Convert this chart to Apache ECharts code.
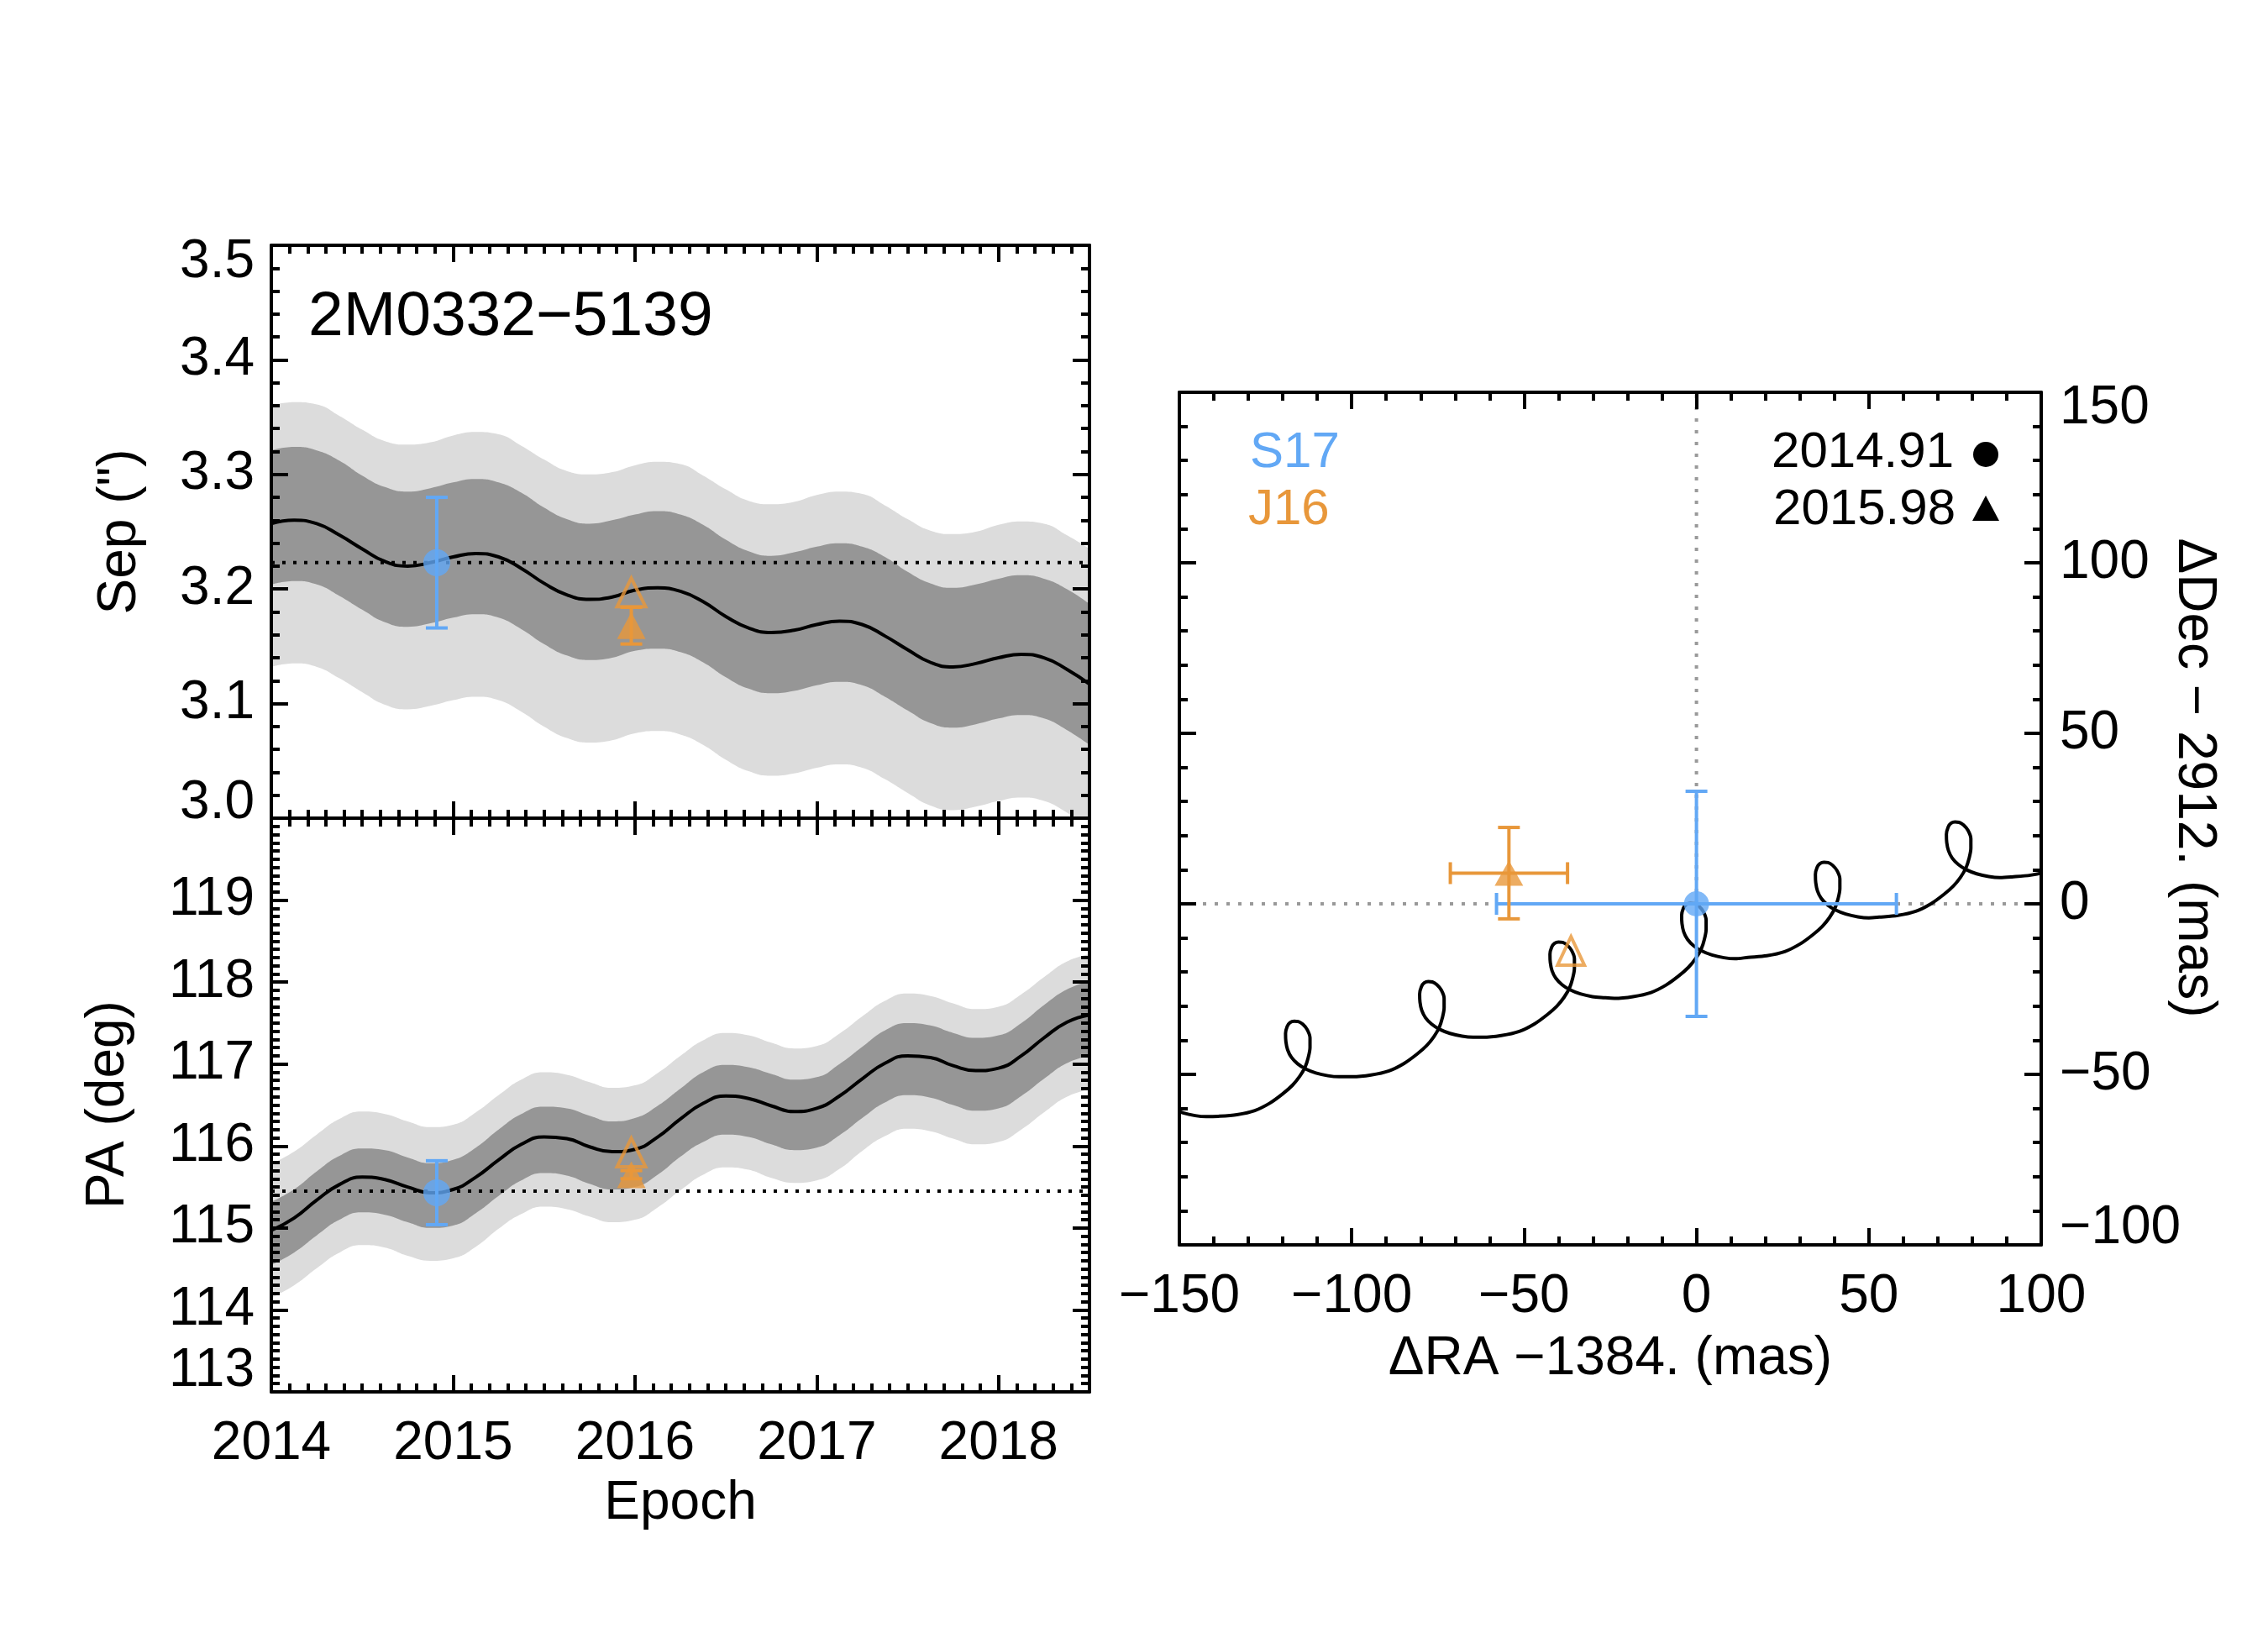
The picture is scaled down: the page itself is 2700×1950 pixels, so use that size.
<!DOCTYPE html>
<html><head><meta charset="utf-8">
<script src="https://cdn.jsdelivr.net/npm/echarts@6/dist/echarts.min.js"></script>
<style>html,body{margin:0;padding:0;background:#fff}#c{width:2700px;height:1950px}</style>
</head><body><div id="c"></div>
<script>
// ---------------- DATA ----------------
// Epochs at which the model curves were read (every 1/8 yr)
const epochs = [2014.0, 2014.125, 2014.25, 2014.375, 2014.5, 2014.625, 2014.75, 2014.875,
  2015.0, 2015.125, 2015.25, 2015.375, 2015.5, 2015.625, 2015.75, 2015.875,
  2016.0, 2016.125, 2016.25, 2016.375, 2016.5, 2016.625, 2016.75, 2016.875,
  2017.0, 2017.125, 2017.25, 2017.375, 2017.5, 2017.625, 2017.75, 2017.875,
  2018.0, 2018.125, 2018.25, 2018.375, 2018.5];

// Separation (arcsec): background-track model and its 1- and 2-sigma envelopes
const sepModel = [3.257, 3.260, 3.257, 3.247, 3.235, 3.224, 3.220, 3.223,
  3.228, 3.231, 3.228, 3.218, 3.205, 3.195, 3.191, 3.193,
  3.199, 3.201, 3.198, 3.189, 3.176, 3.166, 3.162, 3.164,
  3.169, 3.172, 3.169, 3.159, 3.147, 3.136, 3.132, 3.135,
  3.140, 3.143, 3.140, 3.130, 3.117];
const sepHi2 = [3.360, 3.363, 3.361, 3.351, 3.339, 3.329, 3.326, 3.328,
  3.334, 3.337, 3.335, 3.325, 3.313, 3.303, 3.300, 3.302,
  3.308, 3.311, 3.309, 3.299, 3.287, 3.277, 3.274, 3.276,
  3.282, 3.285, 3.283, 3.273, 3.261, 3.251, 3.248, 3.250,
  3.256, 3.259, 3.257, 3.247, 3.235];
const sepHi1 = [3.321, 3.324, 3.321, 3.312, 3.299, 3.289, 3.285, 3.288,
  3.293, 3.296, 3.293, 3.284, 3.271, 3.261, 3.257, 3.260,
  3.265, 3.268, 3.265, 3.256, 3.243, 3.233, 3.229, 3.232,
  3.237, 3.240, 3.237, 3.228, 3.215, 3.205, 3.201, 3.204,
  3.209, 3.212, 3.209, 3.200, 3.187];
const sepLo1 = [3.204, 3.207, 3.204, 3.194, 3.182, 3.171, 3.167, 3.170,
  3.175, 3.178, 3.175, 3.165, 3.152, 3.142, 3.138, 3.140,
  3.146, 3.148, 3.145, 3.136, 3.123, 3.113, 3.109, 3.111,
  3.116, 3.119, 3.116, 3.106, 3.094, 3.083, 3.079, 3.082,
  3.087, 3.090, 3.087, 3.077, 3.064];
const sepLo2 = [3.132, 3.135, 3.132, 3.122, 3.110, 3.099, 3.095, 3.098,
  3.103, 3.106, 3.103, 3.093, 3.080, 3.070, 3.066, 3.068,
  3.074, 3.076, 3.073, 3.064, 3.051, 3.041, 3.037, 3.039,
  3.044, 3.047, 3.044, 3.034, 3.022, 3.011, 3.007, 3.010,
  3.015, 3.018, 3.015, 3.005, 2.992];
const sepRef = 3.223;

// Position angle (deg)
const paModel = [114.97, 115.12, 115.34, 115.53, 115.62, 115.59, 115.50, 115.43,
  115.47, 115.62, 115.83, 116.02, 116.11, 116.09, 115.99, 115.93,
  115.96, 116.11, 116.33, 116.52, 116.61, 116.58, 116.49, 116.42,
  116.46, 116.61, 116.82, 117.01, 117.10, 117.08, 116.98, 116.92,
  116.95, 117.10, 117.32, 117.51, 117.60];
const paHi2 = [115.78, 115.93, 116.14, 116.33, 116.42, 116.39, 116.30, 116.23,
  116.26, 116.41, 116.62, 116.81, 116.90, 116.87, 116.78, 116.71,
  116.74, 116.89, 117.10, 117.29, 117.38, 117.35, 117.26, 117.19,
  117.22, 117.37, 117.58, 117.77, 117.86, 117.83, 117.74, 117.67,
  117.70, 117.85, 118.06, 118.25, 118.34];
const paHi1 = [115.32, 115.47, 115.69, 115.88, 115.97, 115.95, 115.86, 115.79,
  115.83, 115.98, 116.20, 116.39, 116.48, 116.46, 116.37, 116.30,
  116.34, 116.49, 116.70, 116.90, 116.99, 116.96, 116.88, 116.81,
  116.84, 117.00, 117.21, 117.41, 117.50, 117.47, 117.38, 117.32,
  117.35, 117.50, 117.72, 117.91, 118.01];
const paLo1 = [114.55, 114.70, 114.91, 115.10, 115.19, 115.16, 115.07, 115.00,
  115.03, 115.18, 115.39, 115.58, 115.67, 115.64, 115.54, 115.47,
  115.50, 115.65, 115.87, 116.05, 116.14, 116.11, 116.02, 115.95,
  115.98, 116.13, 116.34, 116.53, 116.62, 116.59, 116.50, 116.43,
  116.46, 116.61, 116.82, 117.01, 117.10];
const paLo2 = [114.15, 114.30, 114.51, 114.70, 114.79, 114.76, 114.66, 114.60,
  114.63, 114.77, 114.99, 115.17, 115.26, 115.23, 115.14, 115.07,
  115.10, 115.25, 115.46, 115.65, 115.74, 115.71, 115.61, 115.55,
  115.58, 115.72, 115.94, 116.12, 116.21, 116.18, 116.09, 116.02,
  116.05, 116.20, 116.41, 116.60, 116.69];
const paRef = 115.45;

// Measurements: S17 (2014.91) and J16 (2015.98)
const obsEpoch = [2014.91, 2015.98];
const obsSep = [3.223, 3.168];
const obsSepErr = [0.057, 0.016];
const obsPA = [115.43, 115.65];
const obsPAErr = [0.39, 0.05];
const predSep = [3.197];   // open triangle (background track at 2015.98)
const predPA = [115.92];

// Relative astrometry panel (mas)
const obsRA = [0, -54.4];
const obsRAErr = [58, 17];
const obsDec = [0, 9.0];
const obsDecErr = [33, 13.4];
const predRA = [-36.4];
const predDec = [-13.8];

// Background track (mas) from left to right
const trackRA = [
  -156.0, -154.2, -151.9, -148.9, -145.4, -142.2,
  -138.7, -133.3, -128.1, -123.7, -120.0, -117.2, -115.1, -113.5, -112.6, -112.1, -112.1, -112.9, -114.2,
  -115.5, -116.7, -117.9, -118.7, -119.2, -119.1, -118.6, -117.5, -115.7, -113.4, -110.4, -106.9, -103.7,
  -99.8, -94.4, -89.2, -84.8, -81.1, -78.3, -76.2, -74.6, -73.7, -73.2, -73.2, -74.0, -75.3,
  -76.6, -77.8, -79.0, -79.8, -80.3, -80.2, -79.7, -78.6, -76.8, -74.5, -71.5, -68.0, -64.8,
  -62.0, -56.6, -51.4, -47.0, -43.3, -40.5, -38.4, -36.8, -35.9, -35.4, -35.4, -36.2, -37.5,
  -38.8, -40.0, -41.2, -42.0, -42.5, -42.4, -41.9, -40.8, -39.0, -36.7, -33.7, -30.2, -27.0,
  -23.8, -18.4, -13.2, -8.8, -5.1, -2.3, -0.2, 1.4, 2.3, 2.8, 2.8, 2.0, 0.7,
  -0.6, -1.8, -3.0, -3.8, -4.3, -4.2, -3.7, -2.6, -0.8, 1.5, 4.5, 8.0, 11.2,
  15.0, 20.4, 25.6, 30.0, 33.7, 36.5, 38.6, 40.2, 41.1, 41.6, 41.6, 40.8, 39.5,
  38.2, 37.0, 35.8, 35.0, 34.5, 34.6, 35.1, 36.2, 38.0, 40.3, 43.3, 46.8, 50.0,
  53.0, 58.4, 63.6, 68.0, 71.7, 74.5, 76.6, 78.2, 79.1, 79.6, 79.6, 78.8, 77.5,
  76.2, 75.0, 73.8, 73.0, 72.5, 72.6, 73.1, 74.2, 76.0, 78.3, 81.3, 84.8, 88.0,
  91.5, 96.9, 102.1, 106.5];
const trackDec = [
  -56.7, -58.6, -60.1, -61.3, -62.1, -62.4,
  -62.3, -61.8, -60.6, -58.4, -55.7, -53.2, -50.6, -47.8, -45.0, -42.1, -39.3, -36.9, -35.3,
  -34.5, -34.4, -34.8, -35.9, -38.0, -40.4, -42.8, -45.0, -46.9, -48.4, -49.6, -50.4, -50.7,
  -50.7, -50.2, -49.0, -46.8, -44.1, -41.6, -39.0, -36.2, -33.4, -30.5, -27.7, -25.3, -23.7,
  -22.9, -22.8, -23.2, -24.3, -26.4, -28.8, -31.2, -33.4, -35.3, -36.8, -38.0, -38.8, -39.1,
  -39.1, -38.6, -37.4, -35.2, -32.5, -30.0, -27.4, -24.6, -21.8, -18.9, -16.1, -13.7, -12.1,
  -11.3, -11.2, -11.6, -12.7, -14.8, -17.2, -19.6, -21.8, -23.7, -25.2, -26.4, -27.2, -27.5,
  -27.7, -27.2, -26.0, -23.8, -21.1, -18.6, -16.0, -13.2, -10.4, -7.5, -4.7, -2.3, -0.7,
  0.1, 0.2, -0.2, -1.3, -3.4, -5.8, -8.2, -10.4, -12.3, -13.8, -15.0, -15.8, -16.1,
  -15.7, -15.2, -14.0, -11.8, -9.1, -6.6, -4.0, -1.2, 1.6, 4.5, 7.3, 9.7, 11.3,
  12.1, 12.2, 11.8, 10.7, 8.6, 6.2, 3.8, 1.6, -0.3, -1.8, -3.0, -3.8, -4.1,
  -3.9, -3.4, -2.2, 0.0, 2.7, 5.2, 7.8, 10.6, 13.4, 16.3, 19.1, 21.5, 23.1,
  23.9, 24.0, 23.6, 22.5, 20.4, 18.0, 15.6, 13.4, 11.5, 10.0, 8.8, 8.0, 7.7,
  7.9, 8.4, 9.6, 11.8];

// ---------------- STYLE ----------------
const FONT = 'Liberation Sans';
const BLUE = '#62A8F5';
const ORANGE = '#E8973A';
const DARK = '#969696';
const LIGHT = '#DCDCDC';
const LW = 4;

const chart = echarts.init(document.getElementById('c'), null, {renderer: 'canvas'});

const minus = v => (v < 0 ? '\u2212' + Math.abs(v) : String(v));
const lab = {fontFamily: FONT, fontSize: 64, color: '#000'};

function axPair(gi, pos, min, max, major, minor, labelCfg, extra) {
  const base = {
    type: 'value', gridIndex: gi, position: pos, min: min, max: max, z: 10,
    splitLine: {show: false},
    axisLine: {show: false, onZero: false}
  };
  const majorAx = Object.assign({}, base, {
    interval: major,
    axisLine: {show: true, onZero: false, lineStyle: {color: '#000', width: LW}},
    axisTick: {show: true, inside: true, length: 20, lineStyle: {color: '#000', width: LW}},
    axisLabel: labelCfg ? Object.assign({show: true}, lab, labelCfg) : {show: false}
  }, extra || {});
  const minorAx = Object.assign({}, base, {
    interval: minor,
    axisTick: {show: true, inside: true, length: 10, lineStyle: {color: '#000', width: LW}},
    axisLabel: {show: false}
  });
  return [majorAx, minorAx];
}

const grids = [
  {left: 323, top: 292, width: 974, height: 682},   // Sep
  {left: 323, top: 974, width: 974, height: 683},   // PA
  {left: 1404, top: 467, width: 1026, height: 1015} // RA/Dec
];

const xAxis = [];
const yAxis = [];
// grid 0 (Sep)
xAxis.push(...axPair(0, 'bottom', 2014, 2018.5, 1, 0.1, null));   // 0,1
xAxis.push(...axPair(0, 'top', 2014, 2018.5, 1, 0.1, null));      // 2,3
yAxis.push(...axPair(0, 'left', 3.0, 3.5, 0.1, 0.02, {
  margin: 20,
  formatter: v => {
    const s = v.toFixed(1);
    if (Math.abs(v - 3.5) < 1e-6) return '{dn|' + s + '}';
    if (Math.abs(v - 3.0) < 1e-6) return '{up|' + s + '}';
    return s;
  },
  rich: {dn: Object.assign({padding: [40, 0, 0, 0]}, lab), up: Object.assign({padding: [0, 0, 36, 0]}, lab)}
}));                                                              // 0,1
yAxis.push(...axPair(0, 'right', 3.0, 3.5, 0.1, 0.02, null));     // 2,3
// grid 1 (PA)
xAxis.push(...axPair(1, 'bottom', 2014, 2018.5, 1, 0.1, {
  margin: 30,
  formatter: v => (Math.abs(v - Math.round(v)) < 1e-6 ? String(Math.round(v)) : '')
}, {name: 'Epoch', nameLocation: 'middle', nameGap: 101, nameTextStyle: lab}));   // 4,5
xAxis.push(...axPair(1, 'top', 2014, 2018.5, 1, 0.1, null));      // 6,7
yAxis.push(...axPair(1, 'left', 113, 120, 1, 0.1, {
  margin: 20, showMaxLabel: false,
  formatter: v => (v === 113 ? '{up|113}' : String(v)),
  rich: {up: Object.assign({padding: [0, 0, 50, 0]}, lab)}
}));                                                              // 4,5
yAxis.push(...axPair(1, 'right', 113, 120, 1, 0.1, null));        // 6,7
// grid 2 (RA/Dec)
xAxis.push(...axPair(2, 'bottom', -150, 100, 50, 10, {
  margin: 30, formatter: v => minus(v)
}, {name: '\u0394RA \u22121384. (mas)', nameLocation: 'middle', nameGap: 104, nameTextStyle: lab}));  // 8,9
xAxis.push(...axPair(2, 'top', -150, 100, 50, 10, null));         // 10,11
yAxis.push(...axPair(2, 'left', -100, 150, 50, 10, null));        // 8,9
yAxis.push(...axPair(2, 'right', -100, 150, 50, 10, {
  margin: 22,
  formatter: v => {
    if (v === 150) return '{dn|150}';
    if (v === -100) return '{up|' + minus(v) + '}';
    return minus(v);
  },
  rich: {dn: Object.assign({padding: [38, 0, 0, 0]}, lab), up: Object.assign({padding: [0, 0, 40, 0]}, lab)}
}));                                                              // 10,11

const pairs = (xs, ys) => xs.map((x, i) => [x, ys[i]]);

// bands drawn as layered areas filled down to the axis minimum
function layer(xi, yi, xs, ys, color, z) {
  return {type: 'line', xAxisIndex: xi, yAxisIndex: yi, data: pairs(xs, ys),
    smooth: 0.5, symbol: 'none', lineStyle: {width: 0, opacity: 0},
    areaStyle: {color: color, opacity: 1, origin: 'start'}, z: z, silent: true};
}
function bands(xi, yi, xs, lo2, lo1, hi1, hi2) {
  return [
    layer(xi, yi, xs, hi2, LIGHT, 1),
    layer(xi, yi, xs, hi1, DARK, 1.1),
    layer(xi, yi, xs, lo1, LIGHT, 1.2),
    layer(xi, yi, xs, lo2, '#FFFFFF', 1.3)
  ];
}

function errBars(color, capHalf) {
  return function (params, api) {
    const x = api.value(0), y = api.value(1), ex = api.value(2), ey = api.value(3);
    const ch = [];
    const st = {stroke: color, lineWidth: LW};
    if (ey > 0) {
      const a = api.coord([x, y - ey]), b = api.coord([x, y + ey]);
      ch.push({type: 'line', shape: {x1: a[0], y1: a[1], x2: b[0], y2: b[1]}, style: st});
      ch.push({type: 'line', shape: {x1: a[0] - capHalf, y1: a[1], x2: a[0] + capHalf, y2: a[1]}, style: st});
      ch.push({type: 'line', shape: {x1: b[0] - capHalf, y1: b[1], x2: b[0] + capHalf, y2: b[1]}, style: st});
    }
    if (ex > 0) {
      const a = api.coord([x - ex, y]), b = api.coord([x + ex, y]);
      ch.push({type: 'line', shape: {x1: a[0], y1: a[1], x2: b[0], y2: b[1]}, style: st});
      ch.push({type: 'line', shape: {x1: a[0], y1: a[1] - capHalf, x2: a[0], y2: a[1] + capHalf}, style: st});
      ch.push({type: 'line', shape: {x1: b[0], y1: b[1] - capHalf, x2: b[0], y2: b[1] + capHalf}, style: st});
    }
    return {type: 'group', children: ch};
  };
}
function errSeries(xi, yi, color, data) {
  return {type: 'custom', xAxisIndex: xi, yAxisIndex: yi, z: 6, silent: true,
    renderItem: errBars(color, 13), encode: {x: 0, y: 1}, data: data};
}
function modelLine(xi, yi, xs, ys) {
  return {type: 'line', xAxisIndex: xi, yAxisIndex: yi, data: pairs(xs, ys), smooth: 0.5,
    symbol: 'none', lineStyle: {color: '#000', width: LW}, z: 3, silent: true};
}
function refLine(xi, yi, y) {
  return {type: 'line', xAxisIndex: xi, yAxisIndex: yi, data: [[2014, y], [2018.5, y]], symbol: 'none',
    lineStyle: {color: '#000', width: LW, type: [4, 9]}, z: 4, silent: true};
}
function pts(xi, yi, data, symbol, size, filled) {
  return {type: 'scatter', xAxisIndex: xi, yAxisIndex: yi, data: data, symbol: symbol, symbolSize: size,
    itemStyle: filled ? {color: filled} : {color: 'rgba(0,0,0,0)', borderColor: ORANGE, borderWidth: LW}, z: 7, silent: true};
}

const series = [];
// ---- Sep panel
series.push(...bands(0, 0, epochs, sepLo2, sepLo1, sepHi1, sepHi2));
series.push(modelLine(0, 0, epochs, sepModel));
series.push(refLine(0, 0, sepRef));
series.push(errSeries(0, 0, BLUE, [[obsEpoch[0], obsSep[0], 0, obsSepErr[0]]]));
series.push(errSeries(0, 0, ORANGE, [[obsEpoch[1], obsSep[1], 0, obsSepErr[1]]]));
series.push(pts(0, 0, [[obsEpoch[0], obsSep[0]]], 'circle', 32, BLUE));
series.push(pts(0, 0, [[obsEpoch[1], obsSep[1]]], 'triangle', [34, 32], ORANGE));
series.push(pts(0, 0, [[obsEpoch[1], predSep[0]]], 'triangle', [34, 34], null));

// ---- PA panel
series.push(...bands(4, 4, epochs, paLo2, paLo1, paHi1, paHi2));
series.push(modelLine(4, 4, epochs, paModel));
series.push(refLine(4, 4, paRef));
series.push(errSeries(4, 4, BLUE, [[obsEpoch[0], obsPA[0], 0, obsPAErr[0]]]));
series.push(errSeries(4, 4, ORANGE, [[obsEpoch[1], obsPA[1], 0, obsPAErr[1]]]));
series.push(pts(4, 4, [[obsEpoch[0], obsPA[0]]], 'circle', 32, BLUE));
series.push(pts(4, 4, [[obsEpoch[1], obsPA[1]]], 'triangle', [34, 32], ORANGE));
series.push(pts(4, 4, [[obsEpoch[1], predPA[0]]], 'triangle', [34, 34], null));

// ---- RA/Dec panel
series.push({type: 'line', xAxisIndex: 8, yAxisIndex: 8, data: [[-150, 0], [100, 0]], symbol: 'none',
  lineStyle: {color: '#999', width: LW, type: [4, 10]}, z: 2, silent: true});
series.push({type: 'line', xAxisIndex: 8, yAxisIndex: 8, data: [[0, 0], [0, 150]], symbol: 'none',
  lineStyle: {color: '#999', width: LW, type: [4, 10]}, z: 2, silent: true});
series.push({type: 'line', xAxisIndex: 8, yAxisIndex: 8, data: pairs(trackRA, trackDec), smooth: 0.3,
  symbol: 'none', lineStyle: {color: '#000', width: LW}, z: 3, silent: true});
series.push(errSeries(8, 8, BLUE, [[obsRA[0], obsDec[0], obsRAErr[0], obsDecErr[0]]]));
series.push(errSeries(8, 8, ORANGE, [[obsRA[1], obsDec[1], obsRAErr[1], obsDecErr[1]]]));
series.push(pts(8, 8, [[obsRA[0], obsDec[0]]], 'circle', 30, BLUE));
series.push(pts(8, 8, [[obsRA[1], obsDec[1]]], 'triangle', [34, 30], ORANGE));
series.push(pts(8, 8, [[predRA[0], predDec[0]]], 'triangle', [32, 34], null));

const txt = (x, y, text, opt) => ({type: 'text', x: x, y: y, z: 100, silent: true,
  style: Object.assign({text: text, font: '64px "Liberation Sans"', fill: '#000', textAlign: 'left', textVerticalAlign: 'middle'}, opt || {})});

const graphic = [
  txt(367, 378, '2M0332\u22125139', {font: '75px "Liberation Sans"'}),
  Object.assign(txt(143, 633, 'Sep (")', {textAlign: 'center'}), {rotation: Math.PI / 2}),
  Object.assign(txt(129, 1315, 'PA (deg)', {textAlign: 'center'}), {rotation: Math.PI / 2}),
  Object.assign(txt(2612, 926, '\u0394Dec \u2212 2912. (mas)', {textAlign: 'center'}), {rotation: -Math.PI / 2}),
  txt(1488, 539, 'S17', {fill: BLUE, font: '60px "Liberation Sans"'}),
  txt(1486, 607, 'J16', {fill: ORANGE, font: '60px "Liberation Sans"'}),
  txt(2326, 539, '2014.91', {textAlign: 'right', font: '60px "Liberation Sans"'}),
  txt(2328, 607, '2015.98', {textAlign: 'right', font: '60px "Liberation Sans"'}),
  {type: 'circle', shape: {cx: 2364, cy: 541, r: 15}, style: {fill: '#000'}, z: 100, silent: true},
  {type: 'polygon', shape: {points: [[2364, 590], [2380, 620], [2348, 620]]}, style: {fill: '#000'}, z: 100, silent: true}
];

chart.setOption({
  backgroundColor: '#fff',
  animation: false,
  grid: grids,
  xAxis: xAxis,
  yAxis: yAxis,
  series: series,
  graphic: graphic
});
</script>
</body></html>
